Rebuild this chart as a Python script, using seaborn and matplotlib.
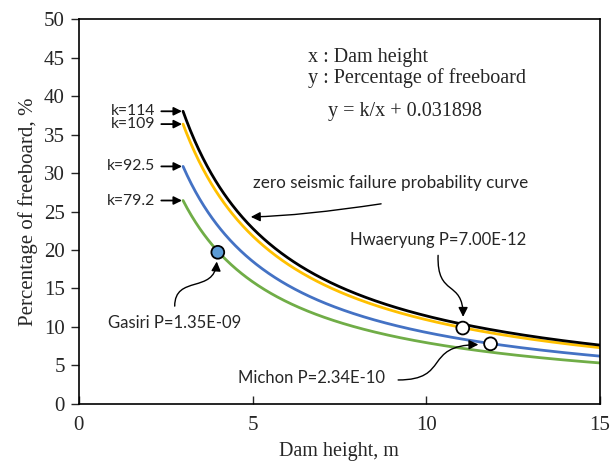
import numpy as np
import pandas as pd
import matplotlib
matplotlib.use("Agg")
import matplotlib.pyplot as plt
import seaborn as sns
from matplotlib.patches import FancyArrowPatch
from matplotlib.path import Path

# ---- data ----
k_values = [114, 109, 92.5, 79.2]
k_labels = ["k=114", "k=109", "k=92.5", "k=79.2"]
curve_colors = ["#000000", "#FFC000", "#4472C4", "#70AD47"]
offset = 0.031898
x_start, x_end = 3, 15

dam_names = ["Gasiri P=1.35E-09", "Hwaeryung P=7.00E-12", "Michon P=2.34E-10"]
dam_height = [4.0, 11.05, 11.85]
dam_freeboard = [19.7, 9.85, 7.8]
dam_fill = ["#5B9BD5", "white", "white"]

# curves from the equation stated on the chart: y = k/x + 0.031898
x = np.linspace(x_start, x_end, 400)
rows = []
for k, lab in zip(k_values, k_labels):
    for xi in x:
        rows.append({"x": xi, "y": k / xi + offset, "k": lab})
df = pd.DataFrame(rows)
pts = pd.DataFrame({"x": dam_height, "y": dam_freeboard, "name": dam_names})

sns.set_style("white")
serif = ["Liberation Serif", "DejaVu Serif"]
sans = ["Lato", "DejaVu Sans"]

fig = plt.figure(figsize=(6.11, 4.69), dpi=100)
ax = fig.add_axes([0.129, 0.139, 0.853, 0.82])

order = [3, 2, 1, 0]
for i in order:
    sub = df[df["k"] == k_labels[i]]
    sns.lineplot(data=sub, x="x", y="y", color=curve_colors[i], lw=2.0, ax=ax,
                 legend=False, zorder=2 + (3 - i) * 0.1)

sns.scatterplot(data=pts, x="x", y="y", ax=ax, s=85, marker="o",
                hue="name", palette=dict(zip(dam_names, dam_fill)),
                edgecolor="black", linewidth=1.3, legend=False, zorder=5)

ax.set_xlim(0, 15)
ax.set_ylim(0, 50)
ax.set_xticks([0, 5, 10, 15])
ax.set_yticks(range(0, 51, 5))
ax.tick_params(axis="x", direction="in", length=6, width=1, labelsize=15, pad=9)
ax.tick_params(axis="y", direction="out", length=6, width=1, labelsize=15, pad=4, left=True)
ax.tick_params(axis="x", bottom=True)
for lab in ax.get_xticklabels() + ax.get_yticklabels():
    lab.set_fontfamily(serif)
for sp in ax.spines.values():
    sp.set_color("black")
    sp.set_linewidth(1.2)
ax.set_xlabel("Dam height, m", fontsize=14.5, family=serif, labelpad=5)
ax.set_ylabel("Percentage of freeboard, %", fontsize=15, family=serif, labelpad=4)

# k labels with arrows at curve start
for k, lab in zip(k_values, k_labels):
    y0 = k / x_start + offset
    ax.annotate(lab, xy=(2.97, y0), xytext=(2.2, y0), ha="right", va="center",
                fontsize=11.3, family=sans,
                arrowprops=dict(arrowstyle="-|>", color="black", lw=1.3,
                                mutation_scale=12, shrinkA=2, shrinkB=0))

# text block
ax.text(6.6, 45.0, "x : Dam height", fontsize=14.5, family=serif, va="center")
ax.text(6.6, 42.3, "y : Percentage of freeboard", fontsize=14.5, family=serif, va="center")
ax.text(7.17, 38.0, "y = k/x + 0.031898", fontsize=14.5, family=serif, va="center")

ax.text(5.0, 28.7, "zero seismic failure probability curve", fontsize=12.3,
        family=sans, va="center")
ax.text(7.8, 21.3, "Hwaeryung P=7.00E-12", fontsize=12, family=sans, va="center")
ax.text(0.83, 10.5, "Gasiri P=1.35E-09", fontsize=12, family=sans, va="center")
ax.text(4.58, 3.4, "Michon P=2.34E-10", fontsize=12, family=sans, va="center")


def curved_arrow(p0, p1, p2, p3, lw=1.0):
    path = Path([p0, p1, p2, p3], [Path.MOVETO, Path.CURVE4, Path.CURVE4, Path.CURVE4])
    arr = FancyArrowPatch(path=path, arrowstyle="-|>", mutation_scale=14,
                          color="black", lw=lw, zorder=6)
    ax.add_patch(arr)


curved_arrow((8.7, 26.0), (7.2, 25.0), (6.0, 24.4), (4.95, 24.3))
curved_arrow((2.76, 12.7), (2.76, 16.8), (3.9, 14.3), (3.97, 18.5))
curved_arrow((10.34, 19.3), (10.3, 13.8), (11.06, 16.2), (11.06, 11.3))
curved_arrow((9.19, 3.1), (10.7, 3.1), (9.9, 7.6), (11.5, 7.7))

fig.savefig("out.png", dpi=100, facecolor="white")
